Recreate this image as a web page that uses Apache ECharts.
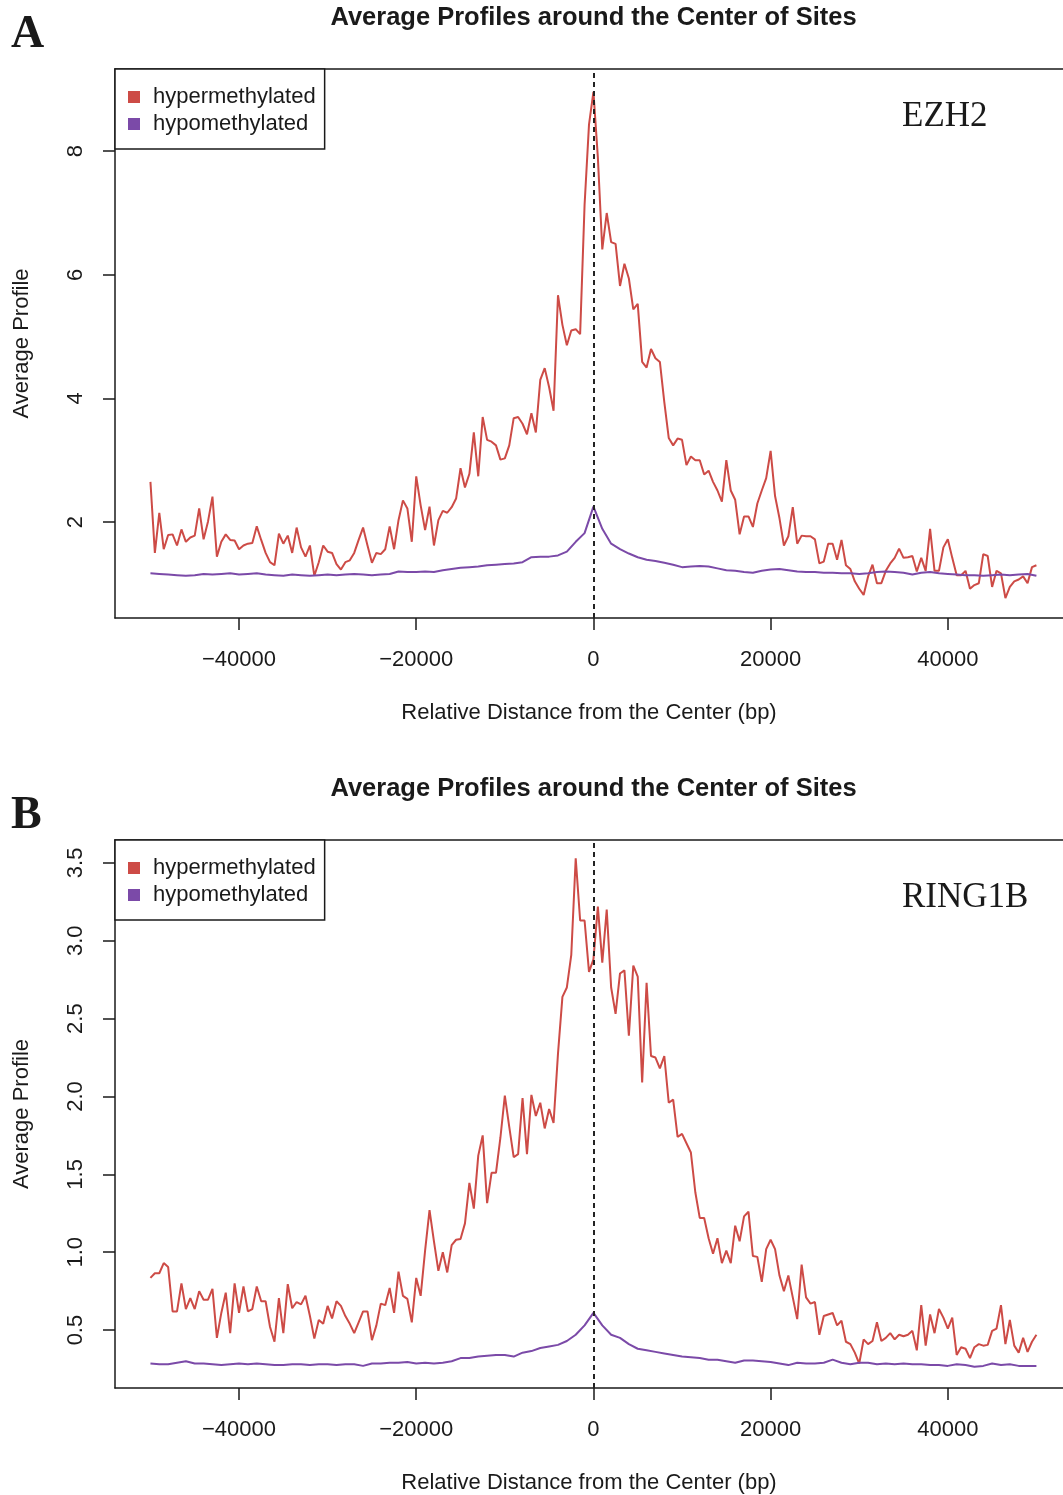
<!DOCTYPE html>
<html>
<head>
<meta charset="utf-8">
<title>Average Profiles around the Center of Sites</title>
<script src="https://cdn.jsdelivr.net/npm/echarts@6/dist/echarts.min.js"></script>
<style>
  html, body { margin: 0; padding: 0; background: #fff; }
  #chart { width: 1063px; height: 1495px; }
</style>
</head>
<body>
<div id="chart"></div>
<script>
// bins: hypermethylated profiles every 500 bp, hypomethylated every 1000 bp
const hyperX = Array.from({ length: 201 }, (_, i) => -50000 + i * 500)
const hypoX = Array.from({ length: 101 }, (_, i) => -50000 + i * 1000)

const xTicks = [-40000, -20000, 0, 20000, 40000]
const yTicksA = [2, 4, 6, 8]
const yTicksB = [0.5, 1.0, 1.5, 2.0, 2.5, 3.0, 3.5]

// panel A: EZH2
const hyperA = [
  2.65, 1.50, 2.15, 1.56, 1.79, 1.80, 1.62, 1.88, 1.68, 1.75,
  1.78, 2.22, 1.72, 2.01, 2.41, 1.44, 1.68, 1.80, 1.71, 1.70,
  1.56, 1.62, 1.65, 1.66, 1.93, 1.71, 1.50, 1.35, 1.30, 1.81,
  1.65, 1.78, 1.50, 1.91, 1.59, 1.44, 1.62, 1.13, 1.35, 1.62,
  1.52, 1.50, 1.32, 1.23, 1.35, 1.38, 1.50, 1.71, 1.91, 1.62,
  1.34, 1.50, 1.48, 1.56, 1.93, 1.56, 2.03, 2.35, 2.22, 1.68,
  2.74, 2.27, 1.87, 2.25, 1.62, 2.03, 2.18, 2.15, 2.24, 2.38,
  2.87, 2.56, 2.78, 3.45, 2.74, 3.70, 3.33, 3.30, 3.24, 3.01,
  3.03, 3.24, 3.68, 3.70, 3.59, 3.42, 3.76, 3.45, 4.30, 4.49,
  4.18, 3.80, 5.67, 5.19, 4.86, 5.10, 5.12, 5.04, 7.13, 8.43,
  8.96,
  7.90, 6.41, 7.00, 6.53, 6.50, 5.82, 6.18, 5.94, 5.44, 5.53,
  4.59, 4.50, 4.80, 4.65, 4.59, 3.94, 3.36, 3.24, 3.35, 3.33,
  2.92, 3.06, 3.00, 3.00, 2.77, 2.83, 2.65, 2.51, 2.33, 3.00,
  2.51, 2.36, 1.80, 2.09, 2.09, 1.92, 2.30, 2.51, 2.71, 3.15,
  2.42, 2.06, 1.62, 1.77, 2.24, 1.65, 1.78, 1.77, 1.77, 1.72,
  1.33, 1.36, 1.65, 1.65, 1.39, 1.71, 1.30, 1.24, 1.04, 0.92,
  0.82, 1.12, 1.31, 1.01, 1.01, 1.21, 1.33, 1.42, 1.57, 1.42,
  1.43, 1.45, 1.20, 1.42, 1.21, 1.89, 1.21, 1.21, 1.59, 1.72,
  1.42, 1.14, 1.14, 1.21, 0.92, 0.98, 1.01, 1.48, 1.45, 0.95,
  1.21, 1.17, 0.77, 0.95, 1.04, 1.07, 1.12, 1.01, 1.27, 1.30
]
const hypoA = [
  1.17, 1.16, 1.15, 1.14, 1.13, 1.14, 1.16, 1.15, 1.16, 1.17,
  1.15, 1.16, 1.17, 1.15, 1.14, 1.13, 1.15, 1.14, 1.13, 1.14,
  1.15, 1.14, 1.15, 1.16, 1.15, 1.14, 1.15, 1.16, 1.20, 1.19,
  1.19, 1.20, 1.19, 1.22, 1.24, 1.26, 1.27, 1.28, 1.30, 1.31,
  1.32, 1.33, 1.35, 1.43, 1.44, 1.44, 1.46, 1.52, 1.68, 1.82,
  2.25,
  1.89, 1.65, 1.56, 1.49, 1.43, 1.39, 1.37, 1.34, 1.31, 1.27,
  1.28, 1.29, 1.28, 1.25, 1.22, 1.21, 1.19, 1.18, 1.21, 1.23,
  1.24, 1.22, 1.20, 1.19, 1.19, 1.18, 1.18, 1.17, 1.17, 1.16,
  1.17, 1.19, 1.20, 1.19, 1.18, 1.15, 1.18, 1.19, 1.17, 1.16,
  1.15, 1.14, 1.14, 1.13, 1.14, 1.15, 1.14, 1.15, 1.16, 1.13,
  1.10
]

// panel B: RING1B
const hyperB = [
  0.835, 0.865, 0.865, 0.93, 0.905, 0.62, 0.62, 0.80, 0.635, 0.705,
  0.635, 0.75, 0.695, 0.695, 0.765, 0.45, 0.61, 0.74, 0.48, 0.80,
  0.61, 0.78, 0.62, 0.635, 0.78, 0.685, 0.685, 0.52, 0.425, 0.705,
  0.48, 0.795, 0.64, 0.68, 0.665, 0.72, 0.59, 0.445, 0.565, 0.54,
  0.655, 0.575, 0.685, 0.655, 0.59, 0.54, 0.48, 0.55, 0.62, 0.62,
  0.435, 0.53, 0.67, 0.66, 0.77, 0.61, 0.875, 0.72, 0.70, 0.55,
  0.835, 0.72, 1.01, 1.27, 1.07, 0.88, 1.00, 0.87, 1.045, 1.08,
  1.085, 1.185, 1.445, 1.28, 1.62, 1.75, 1.315, 1.51, 1.51, 1.735,
  2.005, 1.805, 1.61, 1.63, 1.99, 1.63, 2.01, 1.875, 1.96, 1.795,
  1.92, 1.83, 2.275, 2.64, 2.70, 2.91, 3.53, 3.13, 3.13, 2.80,
  2.88,
  3.22, 2.86, 3.20, 2.70, 2.53, 2.79, 2.81, 2.39, 2.84, 2.77,
  2.09, 2.73, 2.26, 2.25, 2.18, 2.26, 1.96, 1.98, 1.74, 1.76,
  1.70, 1.64, 1.385, 1.22, 1.22, 1.09, 0.99, 1.09, 0.93, 1.01,
  0.93, 1.17, 1.07, 1.23, 1.26, 0.975, 0.97, 0.81, 1.02, 1.08,
  1.02, 0.85, 0.75, 0.85, 0.71, 0.57, 0.92, 0.71, 0.67, 0.68,
  0.47, 0.59, 0.60, 0.61, 0.53, 0.56, 0.425, 0.41, 0.355, 0.285,
  0.44, 0.41, 0.43, 0.55, 0.43, 0.45, 0.48, 0.44, 0.47, 0.46,
  0.47, 0.495, 0.37, 0.66, 0.40, 0.60, 0.48, 0.635, 0.58, 0.51,
  0.58, 0.34, 0.39, 0.38, 0.32, 0.39, 0.41, 0.40, 0.405, 0.495,
  0.51, 0.66, 0.41, 0.565, 0.40, 0.355, 0.45, 0.36, 0.425, 0.47
]
const hypoB = [
  0.285, 0.28, 0.28, 0.29, 0.30, 0.285, 0.285, 0.28, 0.275, 0.28,
  0.285, 0.28, 0.285, 0.28, 0.275, 0.275, 0.28, 0.28, 0.275, 0.28,
  0.28, 0.275, 0.28, 0.28, 0.27, 0.285, 0.285, 0.29, 0.29, 0.295,
  0.285, 0.29, 0.285, 0.29, 0.30, 0.32, 0.32, 0.33, 0.335, 0.34,
  0.34, 0.33, 0.355, 0.365, 0.385, 0.395, 0.405, 0.43, 0.47, 0.53,
  0.61,
  0.53, 0.47, 0.45, 0.41, 0.38, 0.37, 0.36, 0.35, 0.34, 0.33,
  0.325, 0.32, 0.31, 0.31, 0.30, 0.29, 0.305, 0.305, 0.30, 0.295,
  0.285, 0.275, 0.29, 0.285, 0.285, 0.29, 0.31, 0.29, 0.28, 0.29,
  0.29, 0.28, 0.285, 0.28, 0.285, 0.28, 0.28, 0.275, 0.275, 0.27,
  0.28, 0.275, 0.265, 0.27, 0.285, 0.275, 0.28, 0.27, 0.27, 0.27
]

const RED = '#cd4b46'
const PURPLE = '#7b4aa8'
const INK = '#1a1a1a'
const SANS = '"Liberation Sans", Arial, sans-serif'
const SERIF = '"Liberation Serif", "Times New Roman", serif'
const TITLE = 'Average Profiles around the Center of Sites'

// the plot box runs past the right edge of the page, so the x range is cut there
const X_MIN = -54000
const X_MAX = 53000

const pairs = (xs, ys) => xs.map((x, i) => [x, ys[i]])
const frame = { show: true, onZero: false, lineStyle: { color: INK, width: 1.5 } }

function xAxisFor(gridIndex) {
  return {
    type: 'value',
    gridIndex,
    min: X_MIN,
    max: X_MAX,
    name: 'Relative Distance from the Center (bp)',
    nameLocation: 'middle',
    nameGap: 84,
    nameTextStyle: { color: INK, fontSize: 22, fontFamily: SANS },
    axisLine: frame,
    axisTick: { show: true, length: 12, customValues: xTicks, lineStyle: { color: INK, width: 1.5 } },
    axisLabel: {
      customValues: xTicks,
      margin: 31,
      color: INK,
      fontSize: 22,
      fontFamily: SANS,
      formatter: (v) => (v < 0 ? '\u2212' + Math.abs(v) : String(v)),
    },
    splitLine: { show: false },
  }
}

// top edge of the box
function topEdgeFor(gridIndex) {
  return {
    type: 'value',
    gridIndex,
    position: 'top',
    min: X_MIN,
    max: X_MAX,
    axisLine: frame,
    axisTick: { show: false },
    axisLabel: { show: false },
    splitLine: { show: false },
  }
}

function yAxisFor(gridIndex, min, max, ticks, digits) {
  return {
    type: 'value',
    gridIndex,
    min,
    max,
    name: 'Average Profile',
    nameLocation: 'middle',
    nameGap: 82,
    nameTextStyle: { color: INK, fontSize: 22, fontFamily: SANS },
    axisLine: frame,
    axisTick: { show: true, length: 12, customValues: ticks, lineStyle: { color: INK, width: 1.5 } },
    axisLabel: {
      customValues: ticks,
      rotate: 90,
      margin: 28,
      color: INK,
      fontSize: 22,
      fontFamily: SANS,
      formatter: (v) => v.toFixed(digits),
    },
    splitLine: { show: false },
  }
}

function legendFor(top) {
  return {
    orient: 'vertical',
    left: 115,
    top,
    padding: [17, 9, 14, 13],
    itemGap: 5,
    itemWidth: 12,
    itemHeight: 12,
    icon: 'rect',
    backgroundColor: '#fff',
    borderColor: INK,
    borderWidth: 1.5,
    textStyle: { color: INK, fontSize: 22, fontFamily: SANS, padding: [0, 0, 0, 8] },
    data: [
      { name: 'hypermethylated', itemStyle: { color: RED } },
      { name: 'hypomethylated', itemStyle: { color: PURPLE } },
    ],
  }
}

const centerLine = {
  silent: true,
  symbol: ['none', 'none'],
  label: { show: false },
  lineStyle: { color: '#222', type: [5, 4], width: 2 },
  data: [{ xAxis: 0 }],
}

function lineSeries(name, data, color, idx, mark) {
  return {
    name,
    type: 'line',
    xAxisIndex: idx,
    yAxisIndex: idx,
    data,
    showSymbol: false,
    symbol: 'none',
    lineStyle: { width: 2, color },
    itemStyle: { color },
    emphasis: { disabled: true },
    markLine: mark ? centerLine : undefined,
  }
}

function textEl(text, x, y, font, align) {
  return {
    type: 'text',
    x,
    y,
    style: { text, font, fill: INK, align: align || 'left', verticalAlign: 'middle' },
  }
}

const chart = echarts.init(document.getElementById('chart'), null, { renderer: 'canvas' })

chart.setOption({
  backgroundColor: '#fff',
  animation: false,
  grid: [
    { left: 115, top: 69, width: 948, height: 549 },
    { left: 115, top: 840, width: 948, height: 549 },
  ],
  xAxis: [xAxisFor(0), xAxisFor(1), topEdgeFor(0), topEdgeFor(1)],
  yAxis: [
    yAxisFor(0, 0.447, 9.33, yTicksA, 0),
    yAxisFor(1, 0.128, 3.647, yTicksB, 1),
  ],
  legend: [legendFor(69), legendFor(840)],
  series: [
    lineSeries('hypermethylated', pairs(hyperX, hyperA), RED, 0, false),
    lineSeries('hypomethylated', pairs(hypoX, hypoA), PURPLE, 0, true),
    lineSeries('hypermethylated', pairs(hyperX, hyperB), RED, 1, false),
    lineSeries('hypomethylated', pairs(hypoX, hypoB), PURPLE, 1, true),
  ],
  graphic: [
    textEl(TITLE, 593.5, 18, 'bold 25.5px ' + SANS, 'center'),
    textEl(TITLE, 593.5, 789, 'bold 25.5px ' + SANS, 'center'),
    textEl('A', 11, 35, 'bold 46px ' + SERIF),
    textEl('B', 11, 816, 'bold 46px ' + SERIF),
    textEl('EZH2', 902, 117, '35px ' + SERIF),
    textEl('RING1B', 902, 898, '35px ' + SERIF),
  ],
})
</script>
</body>
</html>
